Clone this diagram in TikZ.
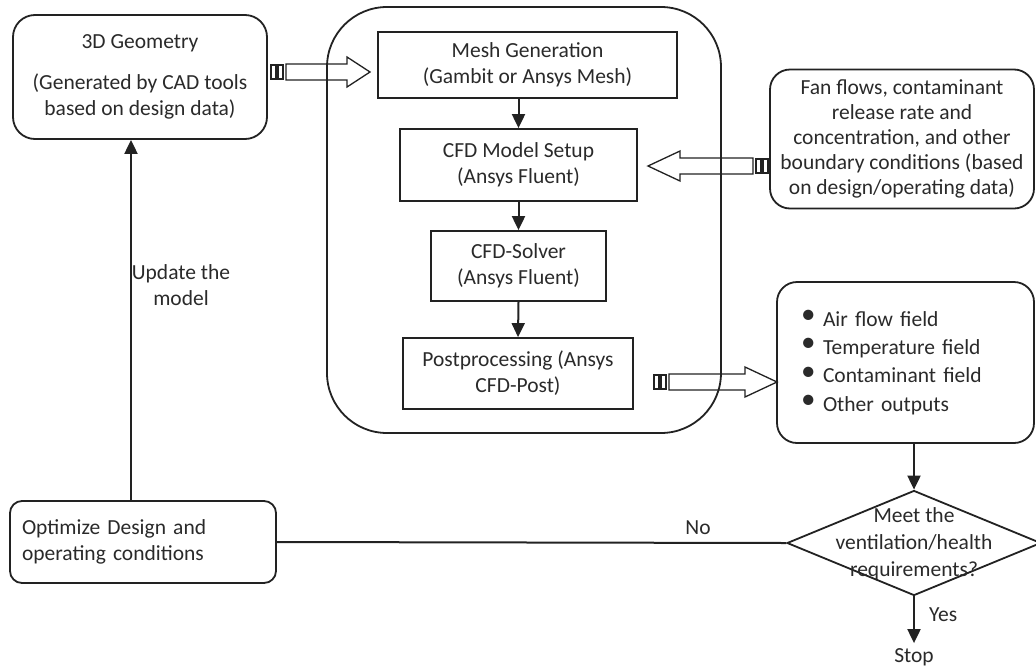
\documentclass[tikz,border=0pt]{standalone}
\usepackage{fontspec}
\setmainfont{Carlito}
\usetikzlibrary{arrows.meta,shapes.geometric}
\definecolor{ink}{HTML}{222222}
\definecolor{txt}{HTML}{2a2a2a}
% hollow striped block arrow: #1 x0, #2 y, #3 length, #4 head length, #5 direction (1/-1)
\newcommand{\blockarrow}[5]{%
 \begin{scope}[shift={(#1,#2)},xscale=#5,line width=1.3pt,draw=ink]
  \draw (0,-7) rectangle (5,7);
  \draw (7,-7) rectangle (12,7);
  \draw (15,-8) -- (#3-#4,-8) -- (#3-#4,-15) -- (#3,0) -- (#3-#4,15) -- (#3-#4,8) -- (15,8) -- cycle;
 \end{scope}}
\newcommand{\bul}{\makebox[22pt][l]{\raisebox{2.5pt}{\scalebox{1.35}{\textbullet}}}}
\begin{document}
\begin{tikzpicture}[x=1pt,y=-1pt,
  font=\fontsize{21.5}{26}\selectfont,
  box/.style={draw=ink,rectangle,inner sep=0pt,align=center,text=txt,line width=1.8pt},
  rbox/.style={box,rounded corners=20pt},
  arr/.style={draw=ink,line width=2pt,-{Triangle[length=14pt,width=13pt]}},
  lbl/.style={text=txt,inner sep=0pt}]
\clip (0,0) rectangle (1036,670);
\useasboundingbox (0,0) rectangle (1036,670);
\fill[white] (0,0) rectangle (1036,670);

% container
\draw[draw=ink,line width=1.8pt,rounded corners=60pt] (327,7) rectangle (721,433);

% nodes
\node[rbox,rounded corners=22pt,minimum width=254pt,minimum height=124pt] (geo) at (140,77)
  {3D Geometry\\[15pt](Generated by CAD tools\\based on design data)};
\node[box,minimum width=299pt,minimum height=66pt] (mesh) at (527.5,65)
  {Mesh Generation\\(Gambit or Ansys Mesh)};
\node[box,minimum width=237pt,minimum height=72pt] (setup) at (518.5,165)
  {CFD Model Setup\\(Ansys Fluent)};
\node[box,minimum width=175pt,minimum height=70pt] (solver) at (518.5,266)
  {CFD-Solver\\(Ansys Fluent)};
\node[box,minimum width=230pt,minimum height=71pt] (post) at (518,373.5)
  {Postprocessing (Ansys\\CFD-Post)};
\node[rbox,minimum width=264pt,minimum height=139pt,font=\fontsize{21.5}{25}\selectfont] (fan) at (902,139)
  {Fan flows, contaminant\\release rate and\\concentration, and other\\boundary conditions (based\\on design/operating data)};
\node[rbox,minimum width=257pt,minimum height=161pt,text width=209pt,inner xsep=24pt,align=left,
  font=\fontsize{21.5}{28.4}\selectfont] (out) at (905.5,362.5)
  {\bul Air flow field\\\bul Temperature field\\\bul Contaminant field\\\bul Other outputs\\[14pt]};
\node[rbox,rounded corners=12pt,minimum width=266pt,minimum height=82pt,text width=242pt,inner xsep=12pt,align=left] (opt) at (143,542)
  {Optimize Design and\\operating conditions};
\node[diamond,draw=ink,line width=1.8pt,minimum width=254pt,minimum height=105pt,inner sep=0pt,text=txt] (dia) at (914,543)
  {\smash{\raisebox{-6pt}{\makebox[0pt]{\begin{tabular}{@{}c@{}}Meet the\\[1pt]ventilation/health\\[1pt]requirements?\end{tabular}}}}};
\node[lbl] (stop) at (914,657) {Stop};
\node[lbl,anchor=west] (yes) at (929,615) {Yes};
\node[lbl] (no) at (698,528) {No};
\node[lbl,align=center] (upd) at (181,285) {Update the\\model};
\coordinate (upx) at (131,0);

% connectors
\draw[arr] (setup.north |- mesh.south) -- (setup.north);
\draw[arr] (setup.south) -- (solver.north);
\draw[arr] (solver.south) -- (post.north);
\draw[arr] (dia.north |- out.south) -- (dia.north);
\draw[arr,shorten >=5pt] (dia.south) -- (stop.north);
\draw[draw=ink,line width=2pt] (dia.west) -- (opt.east);
\draw[arr] (opt.north -| upx) -- (geo.south -| upx);

% block arrows
\blockarrow{271}{72}{99}{23}{1}
\blockarrow{768}{166}{120}{32}{-1}
\blockarrow{654}{382}{123}{32}{1}
\end{tikzpicture}
\end{document}
